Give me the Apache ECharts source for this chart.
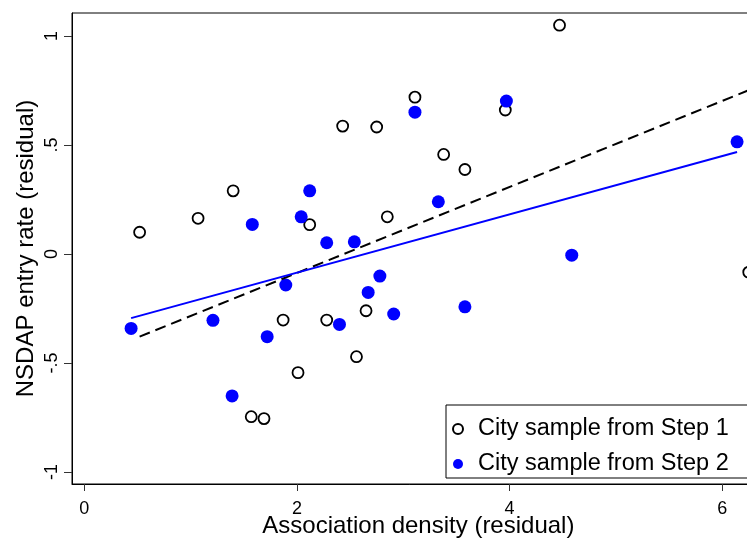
<!DOCTYPE html>
<html>
<head>
<meta charset="utf-8">
<script src="https://cdn.jsdelivr.net/npm/echarts@6/dist/echarts.min.js"></script>
<style>
  html, body { margin: 0; padding: 0; background: #fff; }
  #chart { width: 747px; height: 542px; }
</style>
</head>
<body>
<div id="chart"></div>
<script>
// ---- data ----
const step1Points = [
  [0.52, 0.10], [1.07, 0.164], [1.40, 0.29], [2.12, 0.135], [2.85, 0.171],
  [2.43, 0.587], [2.75, 0.583], [3.11, 0.72], [3.38, 0.457], [3.58, 0.388],
  [3.96, 0.661], [4.47, 1.05], [1.87, -0.303], [2.28, -0.303], [2.65, -0.26],
  [2.56, -0.471], [2.01, -0.544], [1.57, -0.746], [1.69, -0.755], [6.25, -0.083]
];
const step2Points = [
  [0.44, -0.341], [1.21, -0.304], [1.39, -0.651], [1.58, 0.136], [1.72, -0.379],
  [1.895, -0.142], [2.04, 0.171], [2.12, 0.29], [2.28, 0.052], [2.40, -0.323],
  [2.54, 0.056], [2.67, -0.176], [2.78, -0.101], [2.91, -0.275], [3.11, 0.651],
  [3.33, 0.24], [3.58, -0.242], [3.97, 0.702], [4.585, -0.005], [6.14, 0.515]
];
const fitAll = [[0.52, -0.379], [6.25, 0.752]];      // dashed black fit
const fitStep2 = [[0.44, -0.294], [6.14, 0.468]];    // solid blue fit
const xTicks = [0, 2, 4, 6];
const yTicks = [-1, -0.5, 0, 0.5, 1];
const legendNames = ['City sample from Step 1', 'City sample from Step 2'];
const xTitle = 'Association density (residual)';
const yTitle = 'NSDAP entry rate (residual)';

const FONT = '"Liberation Sans", Arial, Helvetica, sans-serif';
const chart = echarts.init(document.getElementById('chart'), null, { renderer: 'canvas' });

const fmtY = v => {
  if (v === 0) return '0';
  return String(v).replace('0.', '.');
};

chart.setOption({
  animation: false,
  backgroundColor: '#fff',
  grid: {
    left: 72, top: 13, width: 692.7, height: 471,
    outerBoundsMode: 'none', containLabel: false,
    show: true, borderColor: '#000', borderWidth: 1, backgroundColor: 'transparent'
  },
  legend: {
    orient: 'vertical',
    left: 446, top: 405,
    padding: [12, 30, 2, 6],
    itemGap: 11,
    itemWidth: 10, itemHeight: 10,
    backgroundColor: '#fff',
    borderColor: '#000', borderWidth: 1,
    data: legendNames,
    textStyle: { fontFamily: FONT, fontSize: 23.5, color: '#000', lineHeight: 24, padding: [0, 0, 0, 10] }
  },
  xAxis: {
    type: 'value',
    min: -0.116, max: 6.4,
    name: xTitle, nameLocation: 'middle', nameGap: 30, nameMoveOverlap: false,
    nameTextStyle: { fontFamily: FONT, fontSize: 24, color: '#000' },
    axisLine: { show: true, onZero: false, lineStyle: { color: '#000', width: 1 } },
    axisTick: { show: true, customValues: xTicks, length: 7, lineStyle: { color: '#333', width: 1 } },
    axisLabel: { customValues: xTicks, fontFamily: FONT, fontSize: 18, color: '#000', margin: 16 },
    splitLine: { show: false }
  },
  yAxis: {
    type: 'value',
    min: -1.055, max: 1.106,
    name: yTitle, nameLocation: 'middle', nameGap: 34, nameMoveOverlap: false,
    nameTextStyle: { fontFamily: FONT, fontSize: 24, color: '#000' },
    axisLine: { show: true, onZero: false, lineStyle: { color: '#000', width: 1 } },
    axisTick: { show: true, customValues: yTicks, length: 8, lineStyle: { color: '#333', width: 1 } },
    axisLabel: { customValues: yTicks, rotate: 90, formatter: fmtY, fontFamily: FONT, fontSize: 18, color: '#000', margin: 11 },
    splitLine: { show: false }
  },
  series: [
    {
      name: legendNames[0], type: 'scatter', data: step1Points,
      symbol: 'circle', symbolSize: 11,
      itemStyle: { color: '#fff', borderColor: '#000', borderWidth: 1.8, opacity: 1 },
      z: 2
    },
    {
      name: legendNames[1], type: 'scatter', data: step2Points,
      symbol: 'circle', symbolSize: 13,
      itemStyle: { color: '#0000ff', opacity: 1 },
      z: 2
    },
    {
      name: 'fitAll', type: 'line', data: fitAll, showSymbol: false, symbol: 'none',
      lineStyle: { color: '#000', width: 2, type: [11, 6] }, z: 3, silent: true
    },
    {
      name: 'fitStep2', type: 'line', data: fitStep2, showSymbol: false, symbol: 'none',
      lineStyle: { color: '#0000ff', width: 2 }, z: 3, silent: true
    }
  ]
});
</script>
</body>
</html>
